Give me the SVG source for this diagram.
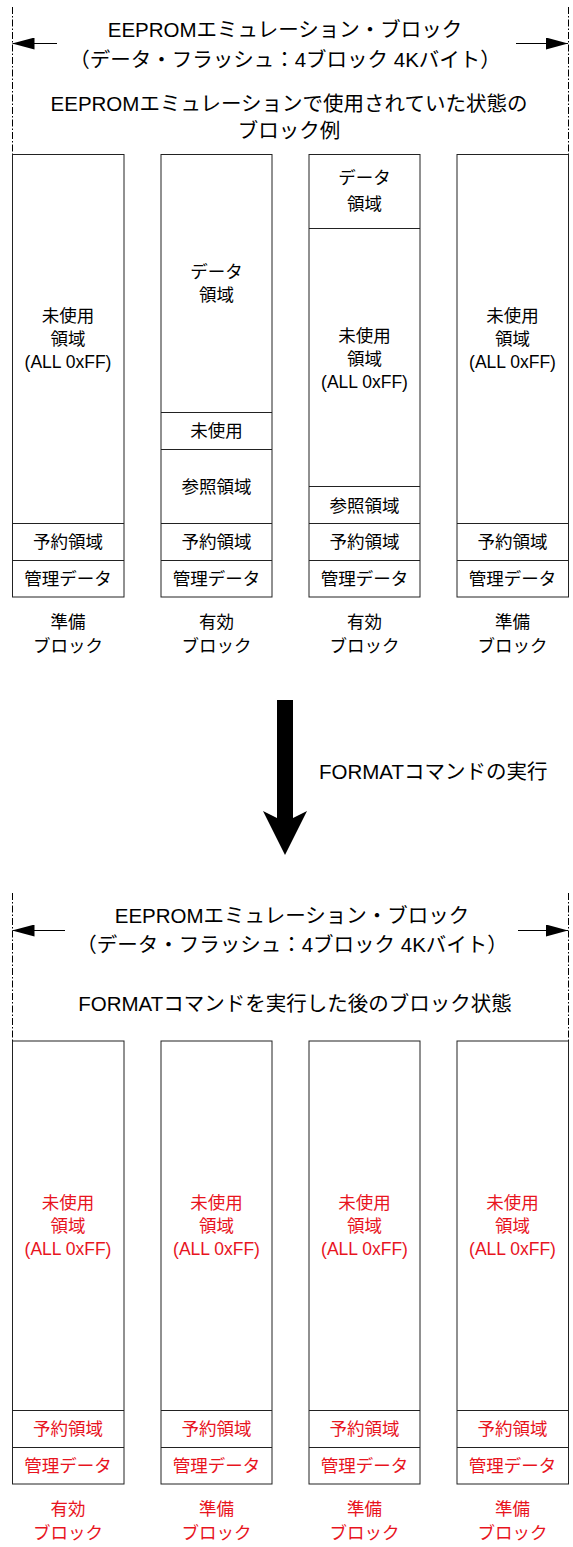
<svg xmlns="http://www.w3.org/2000/svg" width="573" height="1547" viewBox="0 0 573 1547">
<defs>
<style>
text{font-family:"Liberation Sans","Noto Sans CJK JP",sans-serif;fill:#000;text-anchor:middle}
.h{font-size:20.5px}
.b{font-size:17.5px}
.r{fill:#e8141e}
.box{fill:#fff;stroke:#222;stroke-width:1}
.dl{stroke:#000;stroke-width:1;stroke-dasharray:7,2,1.5,2;fill:none}
.ar{stroke:#000;stroke-width:1;fill:none}
</style>
<marker id="ah" viewBox="0 0 22 12" refX="22" refY="6" markerWidth="22" markerHeight="12" markerUnits="userSpaceOnUse" orient="auto">
<path d="M0,0 L22,6 L0,12 Z" fill="#000"/>
</marker>
</defs>
<rect width="573" height="1547" fill="#fff"/>

<g id="connectors">
<line class="dl" x1="12.5" y1="7" x2="12.5" y2="154"/>
<line class="dl" x1="568.5" y1="7" x2="568.5" y2="154"/>
<line class="ar" x1="57" y1="43.5" x2="12.5" y2="43.5" marker-end="url(#ah)"/>
<line class="ar" x1="516" y1="43.5" x2="568" y2="43.5" marker-end="url(#ah)"/>
<line class="dl" x1="12.5" y1="893" x2="12.5" y2="1041"/>
<line class="dl" x1="568.5" y1="893" x2="568.5" y2="1041"/>
<line class="ar" x1="65" y1="930.5" x2="12.5" y2="930.5" marker-end="url(#ah)"/>
<line class="ar" x1="518" y1="930.5" x2="568" y2="930.5" marker-end="url(#ah)"/>
<polygon id="format-arrow" points="277,700 293,700 293,818 307,811 285,855 263,811 277,818" fill="#000"/>
</g>

<g id="header-top">
<text class="h" x="285" y="36.5">EEPROMエミュレーション・ブロック</text>
<text class="h" x="285" y="66.5">（データ・フラッシュ：4ブロック 4Kバイト）</text>
<text class="h" x="289" y="111">EEPROMエミュレーションで使用されていた状態の</text>
<text class="h" x="289" y="138">ブロック例</text>
</g>

<g id="top-block1">
<rect class="box" x="12.5" y="154.5" width="111.5" height="442.5"/>
<line class="box" x1="12.5" y1="523.5" x2="124" y2="523.5"/>
<line class="box" x1="12.5" y1="560.5" x2="124" y2="560.5"/>
<text class="b" x="68" y="322">未使用</text>
<text class="b" x="68" y="345">領域</text>
<text class="b" x="68" y="368">(ALL 0xFF)</text>
<text class="b" x="68" y="548">予約領域</text>
<text class="b" x="68" y="584.5">管理データ</text>
<text class="b" x="68" y="628">準備</text>
<text class="b" x="68" y="651.5">ブロック</text>
</g>

<g id="top-block2">
<rect class="box" x="161" y="154.5" width="111" height="442.5"/>
<line class="box" x1="161" y1="412.5" x2="272" y2="412.5"/>
<line class="box" x1="161" y1="449.5" x2="272" y2="449.5"/>
<line class="box" x1="161" y1="523.5" x2="272" y2="523.5"/>
<line class="box" x1="161" y1="560.5" x2="272" y2="560.5"/>
<text class="b" x="216.5" y="278">データ</text>
<text class="b" x="216.5" y="301">領域</text>
<text class="b" x="216.5" y="436.5">未使用</text>
<text class="b" x="216.5" y="493">参照領域</text>
<text class="b" x="216.5" y="548">予約領域</text>
<text class="b" x="216.5" y="584.5">管理データ</text>
<text class="b" x="216.5" y="628">有効</text>
<text class="b" x="216.5" y="651.5">ブロック</text>
</g>

<g id="top-block3">
<rect class="box" x="309" y="154.5" width="111" height="442.5"/>
<line class="box" x1="309" y1="228.5" x2="420" y2="228.5"/>
<line class="box" x1="309" y1="486.5" x2="420" y2="486.5"/>
<line class="box" x1="309" y1="523.5" x2="420" y2="523.5"/>
<line class="box" x1="309" y1="560.5" x2="420" y2="560.5"/>
<text class="b" x="364.5" y="184">データ</text>
<text class="b" x="364.5" y="209.5">領域</text>
<text class="b" x="364.5" y="341.5">未使用</text>
<text class="b" x="364.5" y="364.5">領域</text>
<text class="b" x="364.5" y="387.5">(ALL 0xFF)</text>
<text class="b" x="364.5" y="511.5">参照領域</text>
<text class="b" x="364.5" y="548">予約領域</text>
<text class="b" x="364.5" y="584.5">管理データ</text>
<text class="b" x="364.5" y="628">有効</text>
<text class="b" x="364.5" y="651.5">ブロック</text>
</g>

<g id="top-block4">
<rect class="box" x="457" y="154.5" width="111.5" height="442.5"/>
<line class="box" x1="457" y1="523.5" x2="568.5" y2="523.5"/>
<line class="box" x1="457" y1="560.5" x2="568.5" y2="560.5"/>
<text class="b" x="512.5" y="322">未使用</text>
<text class="b" x="512.5" y="345">領域</text>
<text class="b" x="512.5" y="368">(ALL 0xFF)</text>
<text class="b" x="512.5" y="548">予約領域</text>
<text class="b" x="512.5" y="584.5">管理データ</text>
<text class="b" x="512.5" y="628">準備</text>
<text class="b" x="512.5" y="651.5">ブロック</text>
</g>

<g id="format-label">
<text class="h" x="319" y="778.5" style="text-anchor:start">FORMATコマンドの実行</text>
</g>

<g id="header-bottom">
<text class="h" x="292" y="922.5">EEPROMエミュレーション・ブロック</text>
<text class="h" x="292" y="952">（データ・フラッシュ：4ブロック 4Kバイト）</text>
<text class="h" x="295" y="1010.5">FORMATコマンドを実行した後のブロック状態</text>
</g>

<g id="bottom-block1">
<rect class="box" x="12.5" y="1041" width="111.5" height="443"/>
<line class="box" x1="12.5" y1="1410.5" x2="124" y2="1410.5"/>
<line class="box" x1="12.5" y1="1447.5" x2="124" y2="1447.5"/>
<text class="b r" x="68" y="1208.5">未使用</text>
<text class="b r" x="68" y="1232">領域</text>
<text class="b r" x="68" y="1255">(ALL 0xFF)</text>
<text class="b r" x="68" y="1435">予約領域</text>
<text class="b r" x="68" y="1471.5">管理データ</text>
<text class="b r" x="68" y="1515">有効</text>
<text class="b r" x="68" y="1538.5">ブロック</text>
</g>

<g id="bottom-block2">
<rect class="box" x="161" y="1041" width="111" height="443"/>
<line class="box" x1="161" y1="1410.5" x2="272" y2="1410.5"/>
<line class="box" x1="161" y1="1447.5" x2="272" y2="1447.5"/>
<text class="b r" x="216.5" y="1208.5">未使用</text>
<text class="b r" x="216.5" y="1232">領域</text>
<text class="b r" x="216.5" y="1255">(ALL 0xFF)</text>
<text class="b r" x="216.5" y="1435">予約領域</text>
<text class="b r" x="216.5" y="1471.5">管理データ</text>
<text class="b r" x="216.5" y="1515">準備</text>
<text class="b r" x="216.5" y="1538.5">ブロック</text>
</g>

<g id="bottom-block3">
<rect class="box" x="309" y="1041" width="111" height="443"/>
<line class="box" x1="309" y1="1410.5" x2="420" y2="1410.5"/>
<line class="box" x1="309" y1="1447.5" x2="420" y2="1447.5"/>
<text class="b r" x="364.5" y="1208.5">未使用</text>
<text class="b r" x="364.5" y="1232">領域</text>
<text class="b r" x="364.5" y="1255">(ALL 0xFF)</text>
<text class="b r" x="364.5" y="1435">予約領域</text>
<text class="b r" x="364.5" y="1471.5">管理データ</text>
<text class="b r" x="364.5" y="1515">準備</text>
<text class="b r" x="364.5" y="1538.5">ブロック</text>
</g>

<g id="bottom-block4">
<rect class="box" x="457" y="1041" width="111.5" height="443"/>
<line class="box" x1="457" y1="1410.5" x2="568.5" y2="1410.5"/>
<line class="box" x1="457" y1="1447.5" x2="568.5" y2="1447.5"/>
<text class="b r" x="512.5" y="1208.5">未使用</text>
<text class="b r" x="512.5" y="1232">領域</text>
<text class="b r" x="512.5" y="1255">(ALL 0xFF)</text>
<text class="b r" x="512.5" y="1435">予約領域</text>
<text class="b r" x="512.5" y="1471.5">管理データ</text>
<text class="b r" x="512.5" y="1515">準備</text>
<text class="b r" x="512.5" y="1538.5">ブロック</text>
</g>
</svg>
